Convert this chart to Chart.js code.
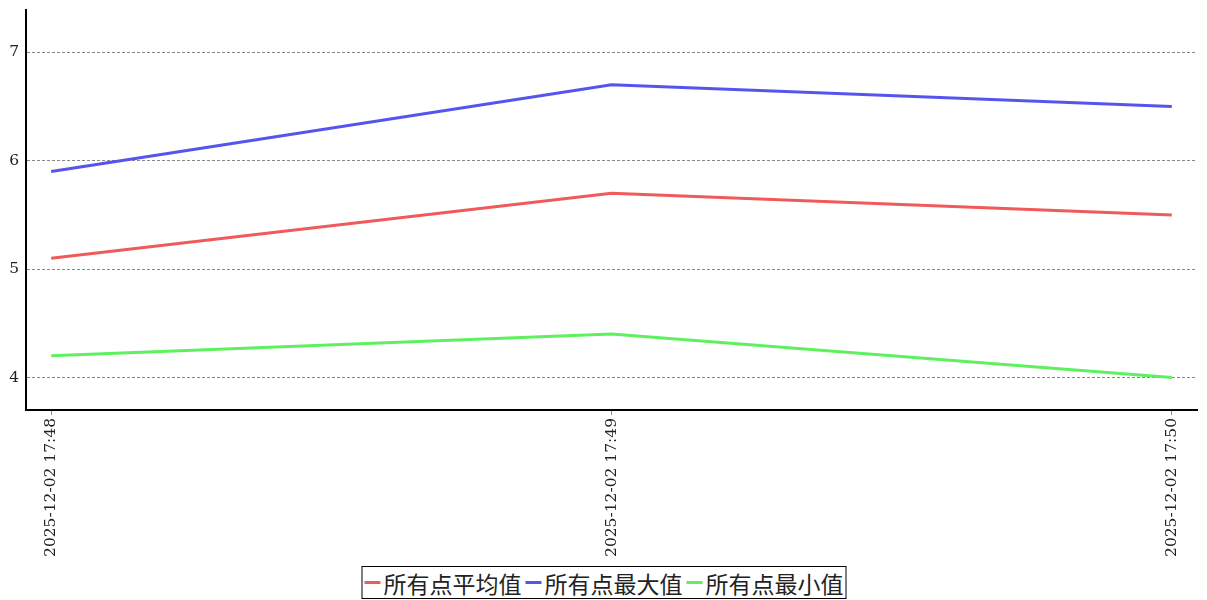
<!DOCTYPE html>
<html>
<head>
<meta charset="utf-8">
<script src="https://cdn.jsdelivr.net/npm/chart.js@4/dist/chart.umd.min.js"></script>
<style>
  body { margin: 0; background: #fff; }
  #wrap { width: 1207px; height: 562px; }
  #legend {
    position: absolute; left: 604px; transform: translateX(-50%); top: 566px; height: 31px;
    border: 1px solid #000; display: flex; align-items: center; padding: 0 2px;
    font-family: "Noto Sans CJK SC", serif; font-size: 23px; color: #222; white-space: nowrap;
  }
  #legend .item { display: flex; align-items: center; margin-right: 4px; }
  #legend .item:last-child { margin-right: 0; }
  #legend .sw { width: 16px; height: 3px; margin-right: 3px; }
</style>
</head>
<body>
<div id="wrap"><canvas id="myChart" width="1207" height="562"></canvas></div>
<div id="legend"></div>
<script>
// data
var timeLabels = ['2025-12-02 17:48', '2025-12-02 17:49', '2025-12-02 17:50'];
var avgValues = [5.1, 5.7, 5.5];
var maxValues = [5.9, 6.7, 6.5];
var minValues = [4.2, 4.4, 4.0];
var yTicks = [4, 5, 6, 7];

var seriesNames = ['所有点平均值', '所有点最大值', '所有点最小值'];
var seriesColors = ['#f05a5a', '#5555ee', '#5ef05e'];
var seriesData = [avgValues, maxValues, minValues];

var datasets = seriesData.map(function(vals, i) {
    return {
        label: seriesNames[i],
        borderColor: seriesColors[i],
        backgroundColor: seriesColors[i],
        borderWidth: 3,
        pointRadius: 0,
        tension: 0,
        data: vals.map(function(v, j) { return {x: j, y: v}; })
    };
});

var tickFont = { family: '"DejaVu Serif", serif', size: 15.5 };

// keep the axes from adding extra room for the edge labels
function noPad(scale) {
    scale.paddingTop = 0;
    scale.paddingBottom = 0;
    scale.paddingLeft = 0;
    scale.paddingRight = 0;
}

var ctx = document.getElementById('myChart').getContext('2d');
var chart = new Chart(ctx, {
    type: 'line',
    data: { datasets: datasets },
    options: {
        responsive: false,
        animation: false,
        layout: { padding: { top: 10, right: 10, left: 0, bottom: 0 } },
        plugins: { legend: { display: false }, tooltip: { enabled: false } },
        scales: {
            x: {
                type: 'linear',
                min: -0.045,
                max: 2.045,
                afterBuildTicks: function(scale) {
                    scale.ticks = timeLabels.map(function(l, i) { return {value: i}; });
                },
                afterFit: function(scale) { scale.height = 152; noPad(scale); },
                ticks: {
                    minRotation: 90, maxRotation: 90,
                    color: '#222', font: tickFont, padding: 3,
                    callback: function(v) { return timeLabels[v]; }
                },
                grid: { drawOnChartArea: false, tickLength: 5, color: '#888' },
                border: { color: '#000', width: 2 }
            },
            y: {
                min: 3.7,
                max: 7.39,
                afterBuildTicks: function(scale) {
                    scale.ticks = yTicks.map(function(v) { return {value: v}; });
                },
                afterFit: function(scale) { scale.width = 26; noPad(scale); },
                ticks: { color: '#222', font: tickFont, padding: 7 },
                grid: { drawTicks: false, color: '#888', lineWidth: 1 },
                border: { color: '#000', width: 2, dash: [3, 2] }
            }
        }
    }
});

// legend below the chart
var legendEl = document.getElementById('legend');
seriesNames.forEach(function(name, i) {
    var item = document.createElement('span');
    item.className = 'item';
    var sw = document.createElement('span');
    sw.className = 'sw';
    sw.style.background = seriesColors[i];
    item.appendChild(sw);
    item.appendChild(document.createTextNode(name));
    legendEl.appendChild(item);
});
</script>
</body>
</html>
